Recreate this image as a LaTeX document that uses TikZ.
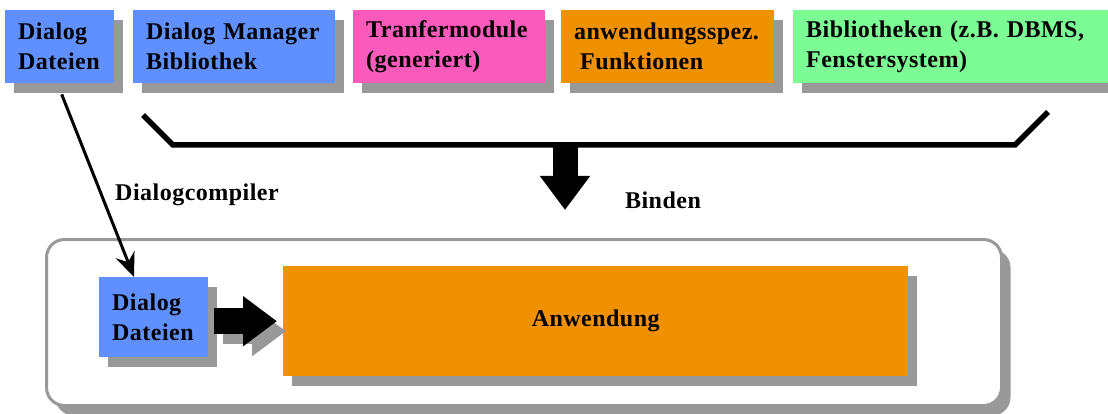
\documentclass[tikz,border=0pt]{standalone}
\usepackage{fontspec}
\setmainfont{Liberation Serif}[LetterSpace=2]
\usetikzlibrary{shadows,arrows.meta}
\definecolor{dmblue}{RGB}{96,144,255}
\definecolor{dmpink}{RGB}{250,90,185}
\definecolor{dmorange}{RGB}{240,145,0}
\definecolor{dmgreen}{RGB}{125,252,150}
\definecolor{dmgray}{RGB}{153,153,153}
\begin{document}
\begin{tikzpicture}[x=1pt,y=-1pt,
	font=\fontsize{24}{30}\selectfont\bfseries,
	shad/.style={drop shadow={shadow xshift=9pt,shadow yshift=-10pt,fill=dmgray,opacity=1}},
	modul/.style={fill=#1,shad,anchor=north west,align=left,inner xsep=13pt,inner ysep=0pt,minimum height=73pt},
	fat/.style={line width=26pt,-{Triangle[length=34pt,width=48pt]}}]
\useasboundingbox (0,0) rectangle (1108,414);
% obere Reihe
\node[modul=dmblue,text width=83pt] (dd) at (5,10) {Dialog\\Dateien};
\node[modul=dmblue,text width=176pt] (dmb) at (133,10) {Dialog Manager\\Bibliothek};
\node[modul=dmpink,text width=166pt] (tm) at (353,10) {Tranfermodule\\(generiert)};
\node[modul=dmorange,text width=187pt] (af) at (561,10) {anwendungsspez.\\\hspace*{6pt}Funktionen};
\node[modul=dmgreen,text width=296pt] (bib) at (793,10) {Bibliotheken (z.B. DBMS,\\Fenstersystem)};
% Klammer
\coordinate (kl) at (565,143);
\coordinate (bind) at (565,210);
\draw[line width=5.5pt] (143,115) -- (173,145) -- (1015,145) -- (1048,112);
\draw[line width=25pt,-{Triangle[length=34pt,width=48pt]}] (kl) -- (bind);
\node (bd) at (663,200) {Binden};
% Anwendung
\node[draw=dmgray,line width=3pt,rounded corners=18pt,fill=white,shad,anchor=north west,
	minimum width=955pt,minimum height=166pt] (sys) at (45,238) {};
\node[modul=dmblue,text width=83pt,minimum height=80pt] (ddin) at (99,277) {Dialog\\Dateien};
\node[fill=dmorange,shad,anchor=north west,minimum width=625pt,minimum height=110pt] (anw) at (283,266) {Anwendung};
\draw[fat,dmgray,shorten >=6pt,transform canvas={shift={(9pt,-10pt)}}] ([xshift=6pt]ddin.east |- anw.west) -- (anw.west);
\draw[fat,shorten >=6pt] ([xshift=6pt]ddin.east |- anw.west) -- (anw.west);
\draw[line width=3pt,-{Stealth[length=24pt,width=20pt,inset=8pt]}] ([xshift=2pt,yshift=-11pt]dd.south) -- ([xshift=35pt]ddin.north west);
\node (dc) at (197,195) {Dialogcompiler};
\end{tikzpicture}
\end{document}
